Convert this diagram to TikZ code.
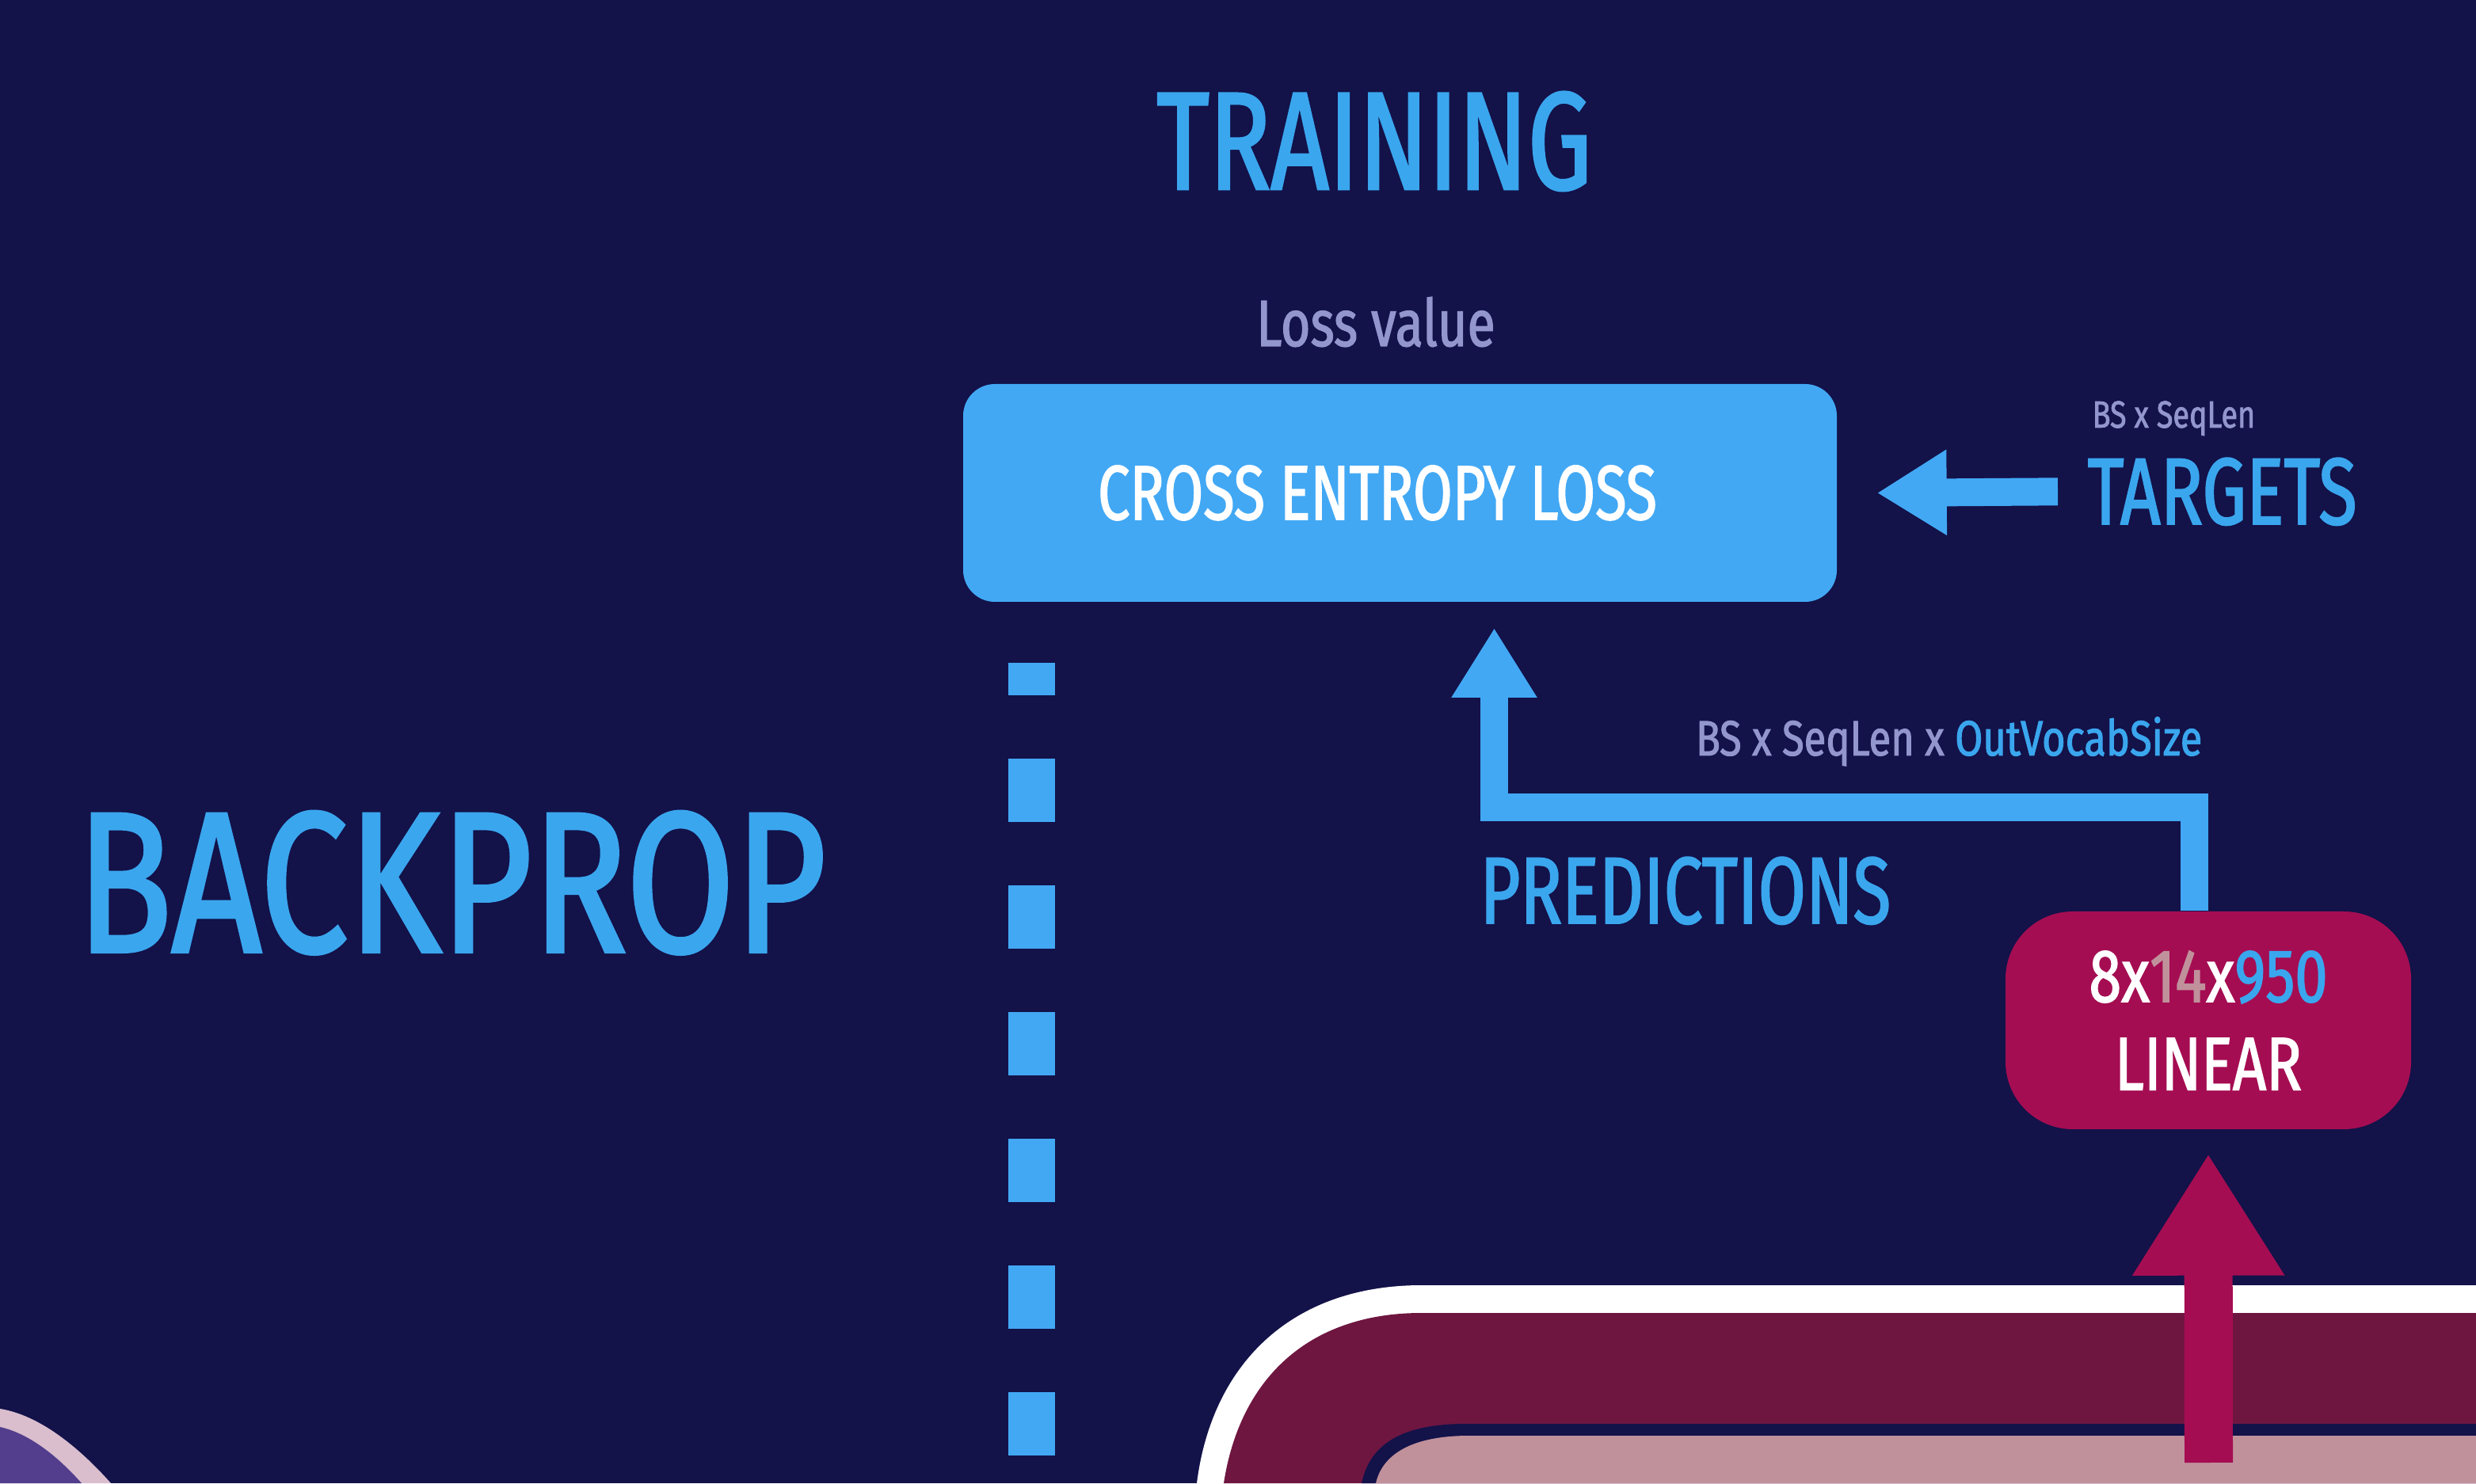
\documentclass[tikz,border=0pt]{standalone}
\usepackage{fontspec}
\setmainfont{Fira Sans}[FakeStretch=0.74, FakeBold=1.6]
\usepackage{xcolor}
\usetikzlibrary{arrows.meta, positioning, calc}

\definecolor{bgNavy}{RGB}{19,18,73}
\definecolor{boxBlue}{RGB}{66,168,244}
\definecolor{textBlue}{RGB}{58,166,238}
\definecolor{lavender}{RGB}{146,150,204}
\definecolor{linMagenta}{RGB}{165,13,82}
\definecolor{darkMagenta}{RGB}{110,22,64}
\definecolor{dustPink}{RGB}{192,145,155}
\definecolor{cornerRim}{RGB}{218,190,206}
\definecolor{cornerPurple}{RGB}{82,62,140}

\newcommand{\fsz}[2]{\fontsize{#1}{#1}\selectfont\addfontfeatures{FakeStretch=#2}}

\begin{document}
\begin{tikzpicture}[
    bigtitle/.style={text=textBlue, inner sep=0pt, font=\fontsize{#1}{#1}\selectfont},
    dimtext/.style={text=lavender, inner sep=0pt, font=\fontsize{#1}{#1}\selectfont},
    bluebox/.style={fill=boxBlue, rounded corners=0.4cm, minimum width=11.03cm,
                    minimum height=2.75cm, inner sep=0pt},
    linbox/.style={fill=linMagenta, rounded corners=0.85cm, minimum width=5.12cm,
                   minimum height=2.75cm, inner sep=0pt, align=center, text=white,
                   font=\fontsize{27}{31.6}\selectfont\addfontfeatures{FakeStretch=0.78}},
    bluearrow/.style={draw=boxBlue, line width=0.35cm, line join=miter,
                      -{Triangle[length=0.88cm, width=1.02cm]}},
    redarrow/.style={draw=linMagenta, line width=0.61cm,
                     -{Triangle[length=1.54cm, width=1.81cm]}},
    backline/.style={draw=boxBlue, line width=0.59cm, dash pattern=on 0.8cm off 0.8cm,
                     dash phase=0.39cm}
  ]
    \useasboundingbox (0,0) rectangle (31.26,18.73);
    \fill[bgNavy] (0,0) rectangle (31.26,18.73);

    % shapes cut by the lower edge
    \fill[cornerRim] (0,0.94) .. controls (0.5,0.86) and (1.0,0.45) .. (1.40,0) -- (0,0) -- cycle;
    \fill[cornerPurple] (0,0.71) .. controls (0.36,0.63) and (0.72,0.35) .. (1.03,0) -- (0,0) -- cycle;
    \fill[white] (15.11,0) .. controls (15.3,1.5) and (16.3,2.50) .. (17.95,2.50) -- (31.26,2.50) -- (31.26,0) -- cycle;
    \fill[darkMagenta] (15.45,0) .. controls (15.65,1.3) and (16.5,2.15) .. (17.95,2.15) -- (31.26,2.15) -- (31.26,0) -- cycle;
    \fill[bgNavy] (17.19,0) .. controls (17.3,0.5) and (17.7,0.75) .. (18.52,0.75) -- (31.26,0.75) -- (31.26,0) -- cycle;
    \fill[dustPink] (17.37,0) .. controls (17.45,0.35) and (17.8,0.60) .. (18.55,0.60) -- (31.26,0.60) -- (31.26,0) -- cycle;

    \node[bigtitle, anchor=base, font=\fsz{50}{0.73}] (training) at (17.35,16.34) {TRAINING};
    \node[dimtext=23.5, anchor=base, font=\fsz{23.5}{0.78}] (lossval) at (17.37,14.36) {Loss value};
    \node[bluebox] (ceBox) at (17.675,12.505) {};
    \node[text=white, inner sep=0pt, anchor=base, font=\fontsize{27.7}{27.7}\selectfont] (ceText) at (17.39,12.17) {CROSS ENTROPY LOSS};

    \node[dimtext, anchor=base west, font=\fsz{13.6}{0.79}] (tgtDim) at (26.41,13.33) {BS x SeqLen};
    \node[bigtitle=34, anchor=base west] (targets) at (26.35,12.11) {TARGETS};

    \node[bigtitle, anchor=base west, font=\fsz{72}{0.785}] (backprop) at (0.96,6.71) {BACKPROP};

    \node[dimtext, anchor=base east, font=\fsz{17.8}{0.81}] (predDim) at (27.81,9.19) {BS x SeqLen x \textcolor{textBlue}{OutVocabSize}};
    \node[bigtitle, anchor=base west, font=\fsz{34}{0.73}] (predictions) at (18.68,7.07) {PREDICTIONS};

    \node[linbox] (linBox) at (27.88,5.845) {8x\textcolor{dustPink}{14}x\textcolor{textBlue}{950}\\LINEAR};

    \coordinate (predBend) at (18.865,8.53);
    \coordinate (predTip) at (18.865,10.80);
    \coordinate (bpTop) at (13.025,10.36);
    \coordinate (bpEnd) at (13.025,0);
    \coordinate (encOut) at (27.885,0.26);

    \draw[bluearrow] ([xshift=-0.37cm]targets.west) -- ([xshift=0.5cm]ceBox.east);
    \draw[bluearrow] ([xshift=-0.18cm]linBox.north) |- (predBend) -- (predTip);
    \draw[redarrow] (encOut) -- ([yshift=-0.3cm]linBox.south);
    \draw[backline] (bpTop) -- (bpEnd);
\end{tikzpicture}
\end{document}
